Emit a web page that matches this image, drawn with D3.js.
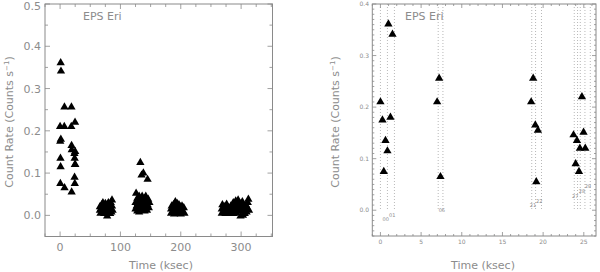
<!DOCTYPE html>
<html><head><meta charset="utf-8">
<script src="https://cdn.jsdelivr.net/npm/d3@7"></script>
<style>body{margin:0;background:#fff}svg{display:block}</style>
</head><body>
<script>
// Right-panel / first-cluster points: [time ksec, rate]
const zoomPoints = [
 [0.0,0.21],[0.25,0.175],[0.41,0.075],[0.62,0.135],[0.86,0.115],
 [0.98,0.361],[1.23,0.18],[1.48,0.341],
 [6.97,0.21],[7.22,0.256],[7.38,0.065],
 [18.53,0.21],[18.78,0.256],[19.04,0.165],[19.16,0.055],[19.36,0.155],
 [23.74,0.146],[24.0,0.09],[24.16,0.135],[24.41,0.075],[24.52,0.12],[24.77,0.22],[24.97,0.151],[25.18,0.12]
];
const cluster2 = [
 [66,0.012],[66,0.02],[67,0.005],[68,0.015],[69,0.025],[70,0.008],[70,0.018],[71,0.03],[72,0.012],[73,0.022],
 [73,0.004],[74,0.015],[75,0.028],[76,0.008],[76,0.02],[77,0.012],[78,-0.002],[78,0.025],[79,0.015],[80,0.006],
 [80,0.03],[81,0.018],[82,0.01],[82,0.024],[83,0.004],[84,0.016],[84,0.03],[85,0.008],[86,0.022],[86,0.036],[87,0.012]
];
const cluster3 = [
 [125,0.015],[125,0.03],[126,0.052],[127,0.022],[128,0.01],[128,0.04],[129,0.028],[130,0.018],[131,0.045],[131,0.008],
 [132,0.03],[133,0.125],[133,0.02],[134,0.038],[134,0.012],[135,0.095],[135,0.025],[136,0.045],[137,0.015],[138,0.1],
 [138,0.032],[139,0.02],[140,0.04],[140,0.01],[141,0.028],[142,0.045],[142,0.018],[143,0.03],[144,0.012],[145,0.085],
 [145,0.025],[146,0.038],[147,0.018],[148,0.03]
];
const cluster4 = [
 [184,0.005],[184,0.015],[185,0.022],[187,0.01],[188,0.025],[189,0.003],[190,0.015],[191,0.032],[192,0.008],[193,0.02],
 [194,0.028],[195,0.005],[196,0.015],[197,0.025],[198,0.01],[199,0.02],[200,0.003],[201,0.015],[202,0.022],[204,0.008],
 [205,0.018],[206,0.005]
];
const cluster5 = [
 [268,0.005],[268,0.015],[269,0.025],[271,0.01],[272,0.02],[274,0.004],[275,0.015],[276,0.026],[278,0.008],[279,0.018],
 [281,0.004],[282,0.014],[283,0.022],[285,0.008],[286,0.018],[287,0.03],[288,0.004],[289,0.012],[290,0.022],[291,0.034],
 [292,0.006],[293,0.016],[294,0.026],[295,0.036],[296,0.01],[297,0.02],[298,0.028],[299,-0.002],[300,0.012],[301,0.022],
 [302,0.032],[303,0.0],[304,0.01],[305,0.02],[306,0.004],[307,0.014],[308,0.024],[309,0.008],[310,0.018],[311,0.03],
 [312,0.038],[313,0.012]
];
// Dotted observation-boundary lines (ksec) and segment labels [label, t, rate]
const segLines = [0.0,0.86,1.72,7.1,7.68,18.6,19.07,19.8,23.83,24.23,24.57,25.14,25.8];
const segLabels = [["00",0.66,-0.017],["01",1.44,-0.009],["06",7.55,0.0],["21",18.75,0.01],["22",19.52,0.018],
  ["27",23.95,0.027],["28",24.77,0.037],["29",25.5,0.047]];
const leftXTicks = [0,100,200,300];
const leftYTicks = [0,0.1,0.2,0.3,0.4,0.5];
const rightXTicks = [0,5,10,15,20,25];
const rightYTicks = [0,0.1,0.2,0.3,0.4];
const starName = "EPS Eri";

const W=600,H=272, AX="#8a8a8a", TX="#8c8c8c", FONT="'DejaVu Sans', sans-serif";
const svg = d3.select("body").append("svg").attr("width",W).attr("height",H);
const tri = d3.symbol().type(d3.symbolTriangle).size(30);

function frame(g, x, y, xMaj, xMin, yMaj, yMin, majLen, minLen){
  const [x0,x1]=x.range(), [y0,y1]=y.range();
  g.append("rect").attr("x",x0).attr("y",y1).attr("width",x1-x0).attr("height",y0-y1)
   .attr("fill","none").attr("stroke",AX).attr("stroke-width",1);
  const tk = g.append("g").attr("stroke",AX).attr("stroke-width",0.8);
  const addX=(vals,len)=>vals.forEach(v=>{const px=x(v);
    tk.append("line").attr("x1",px).attr("x2",px).attr("y1",y0).attr("y2",y0-len);
    tk.append("line").attr("x1",px).attr("x2",px).attr("y1",y1).attr("y2",y1+len);});
  const addY=(vals,len)=>vals.forEach(v=>{const py=y(v);
    tk.append("line").attr("y1",py).attr("y2",py).attr("x1",x0).attr("x2",x0+len);
    tk.append("line").attr("y1",py).attr("y2",py).attr("x1",x1).attr("x2",x1-len);});
  addX(xMaj,majLen); addX(xMin,minLen); addY(yMaj,majLen); addY(yMin,minLen);
}
function rng(a,b,s){const r=[];for(let v=a;v<=b+1e-9;v+=s)r.push(+v.toFixed(4));return r;}

// ---- Left panel
const xL = d3.scaleLinear().domain([-25,352]).range([45,272.5]);
const yL = d3.scaleLinear().domain([-0.05,0.5]).range([236.5,4]);
const gL = svg.append("g");
frame(gL,xL,yL,leftXTicks,rng(-25,350,25).filter(v=>!leftXTicks.includes(v)),
      leftYTicks,rng(-0.05,0.45,0.1),5,3);
gL.selectAll("text.xt").data(leftXTicks).join("text").attr("x",d=>xL(d)).attr("y",251)
  .attr("text-anchor","middle").attr("font-size",11).attr("font-family",FONT).attr("fill",TX).text(d=>d);
gL.selectAll("text.yt").data(leftYTicks).join("text").attr("x",41).attr("y",d=>Math.max(yL(d)+4,10))
  .attr("text-anchor","end").attr("font-size",11).attr("font-family",FONT).attr("fill",TX).text(d3.format(".1f"));
const allLeft = zoomPoints.concat(cluster2,cluster3,cluster4,cluster5);
gL.selectAll("path.pt").data(allLeft).join("path").attr("d",tri)
  .attr("transform",d=>`translate(${xL(d[0])},${yL(d[1])})`).attr("fill","#000");
gL.append("text").attr("x",83).attr("y",20).attr("font-size",11).attr("font-family",FONT).attr("fill",TX).text(starName);
gL.append("text").attr("x",161).attr("y",269).attr("text-anchor","middle").attr("font-size",11)
  .attr("font-family",FONT).attr("fill",TX).text("Time (ksec)");
const tl = gL.append("text").attr("transform","translate(13,122) rotate(-90)").attr("text-anchor","middle")
  .attr("font-size",11).attr("font-family",FONT).attr("fill",TX);
tl.append("tspan").text("Count Rate (Counts s");
tl.append("tspan").attr("font-size",7).attr("dy",-4).text("−1");
tl.append("tspan").attr("dy",4).text(")");

// ---- Right panel
const xR = d3.scaleLinear().domain([-1,26.5]).range([372.3,596]);
const yR = d3.scaleLinear().domain([-0.05,0.4]).range([236,4]);
const gR = svg.append("g");
frame(gR,xR,yR,rightXTicks,rng(-1,26,1).filter(v=>!rightXTicks.includes(v)),
      rightYTicks,rng(-0.05,0.4,0.01).filter(v=>!rightYTicks.some(t=>Math.abs(t-v)<1e-6)),4,2);
gR.selectAll("line.seg").data(segLines).join("line").attr("x1",d=>xR(d)).attr("x2",d=>xR(d))
  .attr("y1",yR(0.4)).attr("y2",yR(0.0)).attr("stroke","#999").attr("stroke-width",0.7).attr("stroke-dasharray","1,2");
gR.selectAll("text.sl").data(segLabels).join("text").attr("x",d=>xR(d[1])).attr("y",d=>yR(d[2])+2)
  .attr("text-anchor","middle").attr("font-size",5).attr("font-family",FONT).attr("fill",TX).text(d=>d[0]);
gR.selectAll("text.xt").data(rightXTicks).join("text").attr("x",d=>xR(d)).attr("y",244)
  .attr("text-anchor","middle").attr("font-size",6).attr("font-family",FONT).attr("fill",TX).text(d=>d);
gR.selectAll("text.yt").data(rightYTicks).join("text").attr("x",369).attr("y",d=>yR(d)+2)
  .attr("text-anchor","end").attr("font-size",6).attr("font-family",FONT).attr("fill",TX).text(d3.format(".1f"));
gR.selectAll("path.pt").data(zoomPoints).join("path").attr("d",tri)
  .attr("transform",d=>`translate(${xR(d[0])},${yR(d[1])})`).attr("fill","#000");
gR.append("text").attr("x",405).attr("y",20).attr("font-size",11).attr("font-family",FONT).attr("fill",TX).text(starName);
gR.append("text").attr("x",483).attr("y",269).attr("text-anchor","middle").attr("font-size",11)
  .attr("font-family",FONT).attr("fill",TX).text("Time (ksec)");
const tr = gR.append("text").attr("transform","translate(339,122) rotate(-90)").attr("text-anchor","middle")
  .attr("font-size",11).attr("font-family",FONT).attr("fill",TX);
tr.append("tspan").text("Count Rate (Counts s");
tr.append("tspan").attr("font-size",7).attr("dy",-4).text("−1");
tr.append("tspan").attr("dy",4).text(")");
</script>
</body></html>
